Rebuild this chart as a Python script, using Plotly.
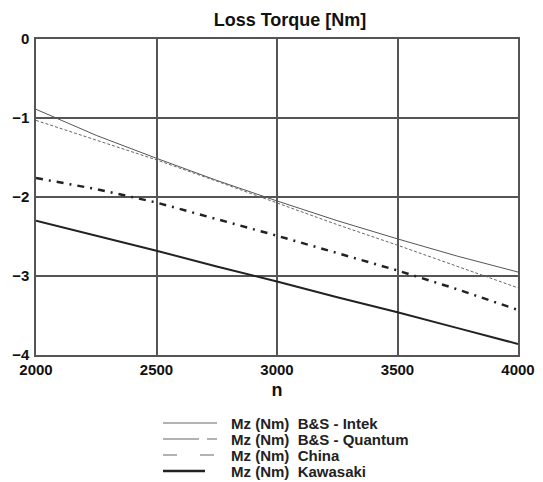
import plotly.graph_objects as go

rpm = [2000, 2250, 2500, 2750, 3000, 3250, 3500, 3750, 4000]
intek = [-0.89, -1.22, -1.51, -1.79, -2.05, -2.30, -2.53, -2.75, -2.95]
quantum = [-1.03, -1.28, -1.53, -1.80, -2.08, -2.35, -2.61, -2.88, -3.15]
china = [-1.76, -1.90, -2.07, -2.28, -2.49, -2.71, -2.93, -3.17, -3.43]
kawasaki = [-2.30, -2.49, -2.68, -2.88, -3.07, -3.27, -3.46, -3.66, -3.86]

names = ["Mz (Nm)\u00a0\u00a0B&S - Intek", "Mz (Nm)\u00a0\u00a0B&S - Quantum",
         "Mz (Nm)\u00a0\u00a0China", "Mz (Nm)\u00a0\u00a0Kawasaki"]
xticks = [2000, 2500, 3000, 3500, 4000]
yticks = [-4, -3, -2, -1, 0]

W, H = 543, 482
ML, MR, MT, MB = 36, 25, 39, 127
PW, PH = W - ML - MR, H - MT - MB

FONT = "Arial, Liberation Sans, sans-serif"

fig = go.Figure()
fig.add_trace(go.Scatter(x=rpm, y=intek, mode="lines", name=names[0],
                         line=dict(color="#555555", width=1)))
fig.add_trace(go.Scatter(x=rpm, y=quantum, mode="lines", name=names[1],
                         line=dict(color="#666666", width=1, dash="3px,2px")))
fig.add_trace(go.Scatter(x=rpm, y=china, mode="lines", name=names[2],
                         line=dict(color="#222222", width=2.5, dash="7px,6px,2px,6px")))
fig.add_trace(go.Scatter(x=rpm, y=kawasaki, mode="lines", name=names[3],
                         line=dict(color="#222222", width=2)))

axis_common = dict(showline=True, mirror=True, linecolor="#555555", linewidth=1.5,
                   showgrid=True, gridcolor="#555555", gridwidth=1.5, zeroline=False,
                   ticks="", automargin=False,
                   tickfont=dict(family=FONT, size=15, color="#111111"))

# manual legend (matches reference's legend swatches)
leg_rows = [423, 439, 455, 471]
leg_styles = [
    dict(color="#666666", width=1, dash="solid", x1=217),
    dict(color="#999999", width=1.5, dash="36px,8px,10px", x1=217),
    dict(color="#999999", width=1.5, dash="14px,23px", x1=214),
    dict(color="#222222", width=2.5, dash="solid", x1=205),
]
shapes, annotations = [], []
for name, py, st in zip(names, leg_rows, leg_styles):
    yp = (MT + PH - py) / PH
    shapes.append(dict(type="line", xref="paper", yref="paper",
                       x0=(163 - ML) / PW, x1=(st["x1"] - ML) / PW, y0=yp, y1=yp,
                       line=dict(color=st["color"], width=st["width"], dash=st["dash"])))
    annotations.append(dict(xref="paper", yref="paper", x=(229 - ML) / PW, y=yp,
                            xanchor="left", yanchor="middle", showarrow=False,
                            text="<b>" + name + "</b>",
                            font=dict(family=FONT, size=15, color="#222222")))

fig.update_layout(
    width=W, height=H,
    margin=dict(l=ML, r=MR, t=MT, b=MB),
    paper_bgcolor="white", plot_bgcolor="white",
    title=dict(text="<b>Loss Torque [Nm]</b>", x=290 / W, xanchor="center",
               y=1 - 20 / H, yanchor="middle",
               font=dict(family=FONT, size=18, color="#111111")),
    xaxis=dict(range=[2000, 4000], tickvals=xticks,
               ticktext=["<b>%d</b>" % v for v in xticks],
               ticklabelstandoff=0,
               title=dict(text="<b>n</b>", standoff=7,
                          font=dict(family=FONT, size=18, color="#111111")),
               **axis_common),
    yaxis=dict(range=[-4, 0], tickvals=yticks,
               ticktext=["<b>%s</b>" % (("\u2212%d" % -v) if v < 0 else str(v)) for v in yticks],
               ticklabelstandoff=2,
               **axis_common),
    showlegend=False,
    shapes=shapes,
    annotations=annotations,
)

fig.write_html("out.html", config={"displayModeBar": False},
               post_script="document.body.style.margin='0';document.body.style.overflow='hidden';")
